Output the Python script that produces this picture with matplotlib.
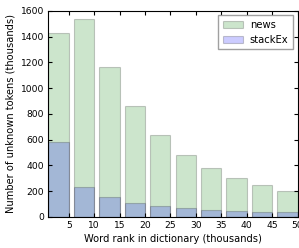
import matplotlib
matplotlib.use("Agg")
import matplotlib.pyplot as plt

# word rank buckets (thousands) -- each bar covers [left, left+4]
bin_left = [1, 6, 11, 16, 21, 26, 31, 36, 41, 46]
news = [1430, 1540, 1165, 860, 640, 485, 380, 300, 245, 205]
stackex = [585, 235, 155, 110, 85, 70, 55, 45, 40, 35]
xticks = [5, 10, 15, 20, 25, 30, 35, 40, 45, 50]
yticks = [0, 200, 400, 600, 800, 1000, 1200, 1400, 1600]

plt.rcParams["font.size"] = 7.1

fig = plt.figure(figsize=(2.99, 2.48), dpi=100)
ax = fig.add_axes([0.162, 0.125, 0.833, 0.831])

ax.bar(bin_left, news, width=4, align="edge", color="green", alpha=0.2,
       edgecolor="black", linewidth=0.8, label="news")
ax.bar(bin_left, stackex, width=4, align="edge", color="blue", alpha=0.2,
       edgecolor="black", linewidth=0.8, label="stackEx")

ax.set_xlim(1, 50)
ax.set_ylim(0, 1600)
ax.set_xticks(xticks)
ax.set_yticks(yticks)
ax.tick_params(direction="in", top=True, right=True, length=3, pad=3,
               labelsize=6.6)
ax.set_xlabel("Word rank in dictionary (thousands)", labelpad=3)
ax.set_ylabel("Number of unknown tokens (thousands)", labelpad=4)

leg = ax.legend(loc="upper right", fancybox=False, edgecolor="#888888",
                handlelength=2.0, handletextpad=0.7, borderaxespad=0.45,
                borderpad=0.45, fontsize=7.2)
leg.get_frame().set_linewidth(1.0)

fig.savefig("out.png", dpi=100)
